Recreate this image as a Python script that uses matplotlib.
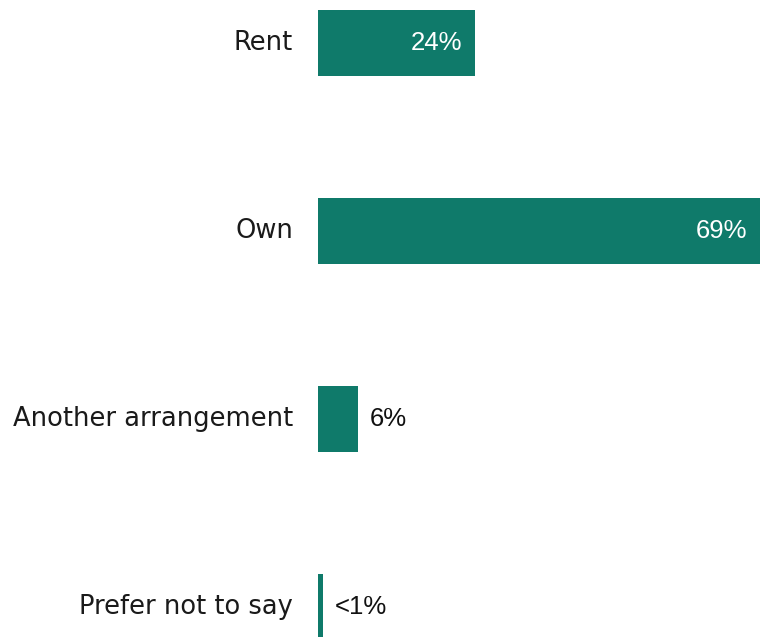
import matplotlib
matplotlib.use("Agg")
import matplotlib.pyplot as plt

categories = ["Rent", "Own", "Another arrangement", "Prefer not to say"]
values = [24.5, 69, 6.2, 0.8]
labels = ["24%", "69%", "6%", "<1%"]
inside = [True, True, False, False]

color = "#0F7A6A"

fig = plt.figure(figsize=(7.6, 6.37), dpi=100)
ax = fig.add_axes([318/760, 0, 1 - 318/760, 1])
y = list(range(len(categories)))
ax.barh(y, values, height=66/188, color=color)
ax.set_xlim(0, 69)
ax.set_ylim(3 + 30/188, -43/188)
for s in ax.spines.values():
    s.set_visible(False)
ax.set_xticks([])
ax.set_yticks([])

for yi, cat, v, lab, ins in zip(y, categories, values, labels, inside):
    ax.annotate(cat, xy=(0, yi), xytext=(-25, 0), textcoords="offset pixels",
                ha="right", va="center", fontsize=18.5, color="#1a1a1a",
                family=["DejaVu Sans"], annotation_clip=False)
    if ins:
        ax.annotate(lab, xy=(v, yi), xytext=(-13, 0), textcoords="offset pixels",
                    ha="right", va="center", fontsize=18.5, color="white",
                    family=["Liberation Sans", "DejaVu Sans"], annotation_clip=False)
    else:
        ax.annotate(lab, xy=(v, yi), xytext=(12, 0), textcoords="offset pixels",
                    ha="left", va="center", fontsize=18.5, color="#111111",
                    family=["Liberation Sans", "DejaVu Sans"], annotation_clip=False)

fig.savefig("out.png", dpi=100)
